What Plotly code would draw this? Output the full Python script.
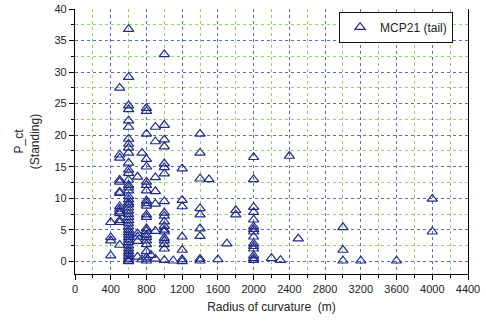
import plotly.graph_objects as go

# Radius of curvature (m) groups and P_ct (Standing) values
r400 = [6.2, 3.8, 3.3, 0.9]
r500 = [27.5, 16.9, 16.4, 12.9, 12.6, 11.0, 10.8, 8.7, 8.3, 7.9, 7.6, 6.5, 6.2, 2.6]
r600 = [36.8, 29.2, 24.7, 24.1, 22.3, 21.3, 19.4, 18.6, 18.0, 17.2, 15.6, 14.5, 14.0,
        12.9, 12.1, 11.7, 11.2, 10.3, 9.8, 9.3, 9.0, 8.5, 8.0, 7.5, 7.0, 6.5, 6.0,
        5.5, 5.0, 4.6, 4.2, 3.8, 3.4, 3.0, 2.5, 2.0, 1.6, 1.2, 0.8, 0.4, 0.1, 0.0]
r700 = [13.4, 4.4, 3.9, 3.2, 0.7]
r750 = [17.2, 0.3]
r800 = [24.3, 23.8, 20.2, 16.2, 15.0, 12.6, 12.1, 11.2, 9.6, 9.2, 8.8, 7.4, 7.0,
        5.2, 4.8, 4.2, 3.8, 3.3, 2.7, 1.6, 0.6, 0.1]
r850 = [1.0]
r900 = [21.3, 19.0, 13.3, 11.1, 9.1, 4.8, 0.4]
r1000 = [32.8, 21.6, 19.3, 18.2, 15.5, 14.9, 13.9, 9.5, 7.7, 7.2, 6.3, 5.6, 5.0,
         4.7, 3.7, 3.3, 2.7, 2.0, 0.2]
r1100 = [0.1]
r1200 = [14.7, 9.7, 8.7, 3.9, 1.8, 0.3, 0.0]
r1400 = [20.2, 17.2, 13.1, 8.4, 7.4, 5.2, 4.0, 0.4, 0.1]
r1500 = [13.0]
r1600 = [0.3]
r1700 = [2.8]
r1800 = [8.1, 7.4]
r2000 = [16.5, 13.0, 8.6, 7.8, 6.6, 5.5, 5.1, 4.7, 3.9, 2.8, 2.4, 2.0, 0.9, 0.5, 0.2]
r2200 = [0.5]
r2300 = [0.2]
r2400 = [16.7]
r2500 = [3.6]
r3000 = [5.4, 1.8, 0.1]
r3200 = [0.1]
r3600 = [0.1]
r4000 = [9.9, 4.7]

groups = [(400, r400), (500, r500), (600, r600), (700, r700), (750, r750), (800, r800),
          (850, r850), (900, r900), (1000, r1000), (1100, r1100), (1200, r1200),
          (1400, r1400), (1500, r1500), (1600, r1600), (1700, r1700), (1800, r1800),
          (2000, r2000), (2200, r2200), (2300, r2300), (2400, r2400), (2500, r2500),
          (3000, r3000), (3200, r3200), (3600, r3600), (4000, r4000)]

xs, ys = [], []
for r, vals in groups:
    for v in vals:
        xs.append(r)
        ys.append(v)

series_name = "MCP21 (tail)"
x_title = "Radius of curvature  (m)"
y_title = "P_ct<br>(Standing)"

FONT = "Liberation Sans, Arial, sans-serif"
MAJOR_GRID = "#5a6cc0"
MINOR_GRID = "#8ed46a"

fig = go.Figure()
fig.add_trace(go.Scatter(
    x=xs, y=ys, mode="markers", name=series_name,
    marker=dict(symbol="triangle-up-open", size=9, color="#1f2a8c",
                line=dict(width=1.2, color="#1f2a8c")),
    showlegend=True,
))

fig.update_layout(
    width=486, height=321,
    margin=dict(l=75, r=18, t=9, b=47),
    paper_bgcolor="white", plot_bgcolor="white",
    font=dict(family=FONT, size=11, color="#222222"),
    showlegend=True,
    legend=dict(x=0.962, y=0.99, xanchor="right", yanchor="top",
                bgcolor="white", bordercolor="#111111", borderwidth=1,
                font=dict(family=FONT, size=12, color="#222222"),
                itemwidth=30, tracegroupgap=0),
)

fig.update_xaxes(
    range=[0, 4400], tick0=0, dtick=400, automargin=False,
    showline=True, linecolor="black", linewidth=1.2, mirror=False,
    ticks="outside", ticklen=5, tickcolor="black", tickwidth=1,
    showgrid=True, gridcolor=MAJOR_GRID, gridwidth=1, griddash="dot",
    zeroline=False,
    minor=dict(dtick=200, tick0=0, ticks="outside", ticklen=3, tickcolor="black",
               showgrid=True, gridcolor=MINOR_GRID, gridwidth=1, griddash="dot"),
    title=dict(text=x_title, font=dict(family=FONT, size=12, color="#222222"), standoff=8),
    tickfont=dict(family=FONT, size=11, color="#222222"),
)

fig.update_yaxes(
    range=[-2, 40], tick0=0, dtick=5, automargin=False,
    showline=True, linecolor="black", linewidth=1.2, mirror=True,
    ticks="outside", ticklen=5, tickcolor="black", tickwidth=1,
    showgrid=True, gridcolor=MAJOR_GRID, gridwidth=1, griddash="dot",
    zeroline=False,
    minor=dict(dtick=2.5, tick0=0, ticks="outside", ticklen=3, tickcolor="black",
               showgrid=True, gridcolor=MINOR_GRID, gridwidth=1, griddash="dot"),
    title=dict(text=y_title, font=dict(family=FONT, size=12, color="#222222"), standoff=12),
    tickfont=dict(family=FONT, size=11, color="#222222"),
)

fig.write_html("out.html", config={"displayModeBar": False},
               post_script="document.body.style.margin='0px';document.body.style.padding='0px';")
